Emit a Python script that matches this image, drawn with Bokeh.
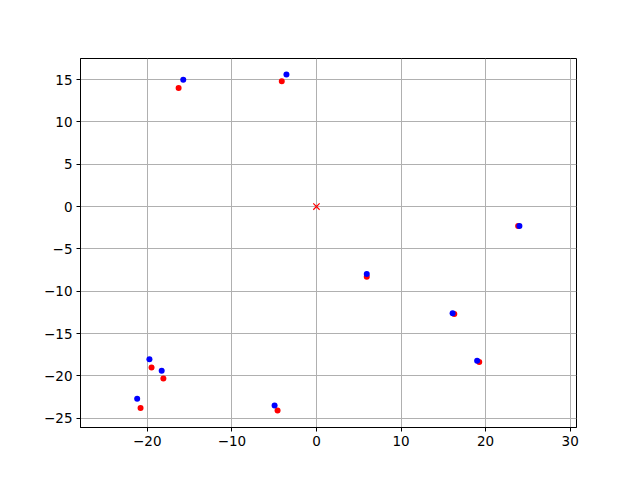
from bokeh.plotting import figure
from bokeh.embed import file_html
from bokeh.resources import INLINE
from bokeh.models import Range1d, FixedTicker, CustomJSTickFormatter

# Data
red_x = [-16.3, -4.1, 5.95, 16.3, 19.25, 23.85, -19.5, -18.1, -20.8, -4.6]
red_y = [14.0, 14.8, -8.3, -12.7, -18.35, -2.3, -19.0, -20.3, -23.8, -24.1]
blue_x = [-15.75, -3.55, 5.95, 16.1, 19.0, 24.0, -19.75, -18.3, -21.2, -4.95]
blue_y = [15.0, 15.6, -7.95, -12.6, -18.2, -2.3, -18.05, -19.4, -22.7, -23.5]
origin_x = [0.0]
origin_y = [0.0]
x_ticks = [-20, -10, 0, 10, 20, 30]
y_ticks = [-25, -20, -15, -10, -5, 0, 5, 10, 15]

p = figure(width=632, height=472, output_backend="svg", toolbar_location=None,
           x_range=Range1d(-27.9, 30.75), y_range=Range1d(-26.1, 17.5),
           min_border_left=80, min_border_right=56, min_border_top=58, min_border_bottom=45)

p.background_fill_color = "white"
p.border_fill_color = "white"
p.outline_line_color = "black"
p.outline_line_width = 1

fmt = CustomJSTickFormatter(code="return String(tick).replace('-', '\u2212');")
for ax, ticks in ((p.xaxis, x_ticks), (p.yaxis, y_ticks)):
    ax.ticker = FixedTicker(ticks=ticks)
    ax.formatter = fmt
    ax.major_label_text_font = "DejaVu Sans"
    ax.major_label_text_font_size = "13.5px"
    ax.major_label_text_color = "black"
    ax.axis_line_color = "black"
    ax.major_tick_line_color = "black"
    ax.major_tick_in = 0
    ax.major_tick_out = 4
    ax.minor_tick_line_color = None
    ax.major_label_standoff = 4

for g in (p.xgrid, p.ygrid):
    g.grid_line_color = "#b0b0b0"
    g.grid_line_width = 1

p.scatter(red_x, red_y, size=6, color="#ff0000", line_color=None)
p.scatter(blue_x, blue_y, size=6, color="#0000ff", line_color=None)
p.scatter(origin_x, origin_y, marker="x", size=9, line_color="#ff0000", line_width=1.2)

open("out.html", "w").write(file_html(p, INLINE))
